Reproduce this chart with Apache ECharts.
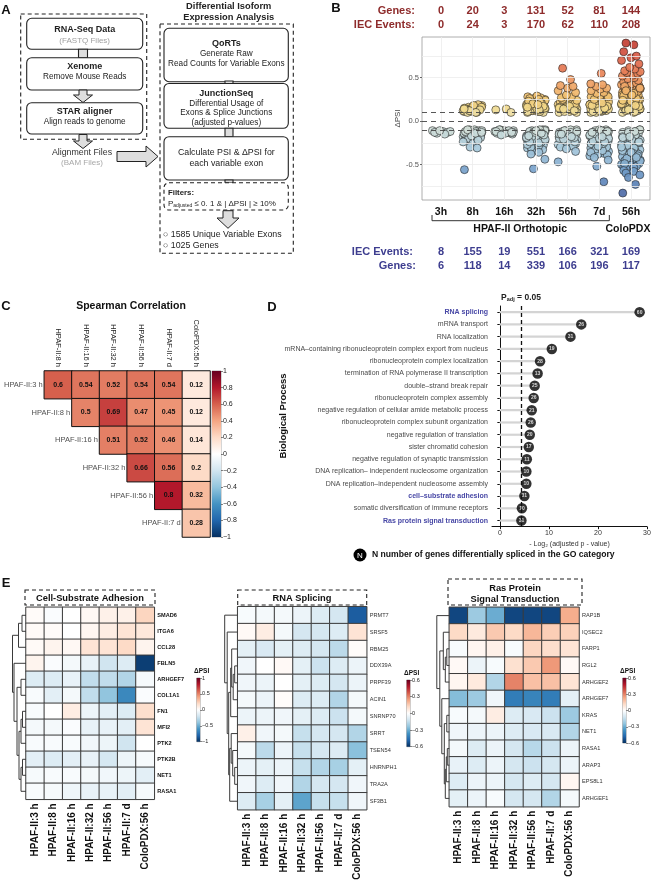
<!DOCTYPE html>
<html><head><meta charset="utf-8">
<script src="https://cdn.jsdelivr.net/npm/echarts@6/dist/echarts.min.js"></script>
<style>html,body{margin:0;padding:0;background:#fff}#c{width:654px;height:894px}</style>
</head><body><div id="c"></div>
<script>
const FONT = '"Liberation Sans", Arial, Helvetica, sans-serif';

// ---------------- Panel B data ----------------
const bCategories = ['3h','8h','16h','32h','56h','7d','56h'];
const bGenesUp = [0,20,3,131,52,81,144];
const bEventsUp = [0,24,3,170,62,110,208];
const bEventsDown = [8,155,19,551,166,321,169];
const bGenesDown = [6,118,14,339,106,196,117];
const dpsi3h = [-0.11,-0.12,-0.13,-0.14,-0.12,-0.13,-0.15,-0.11];
const dpsi8h = [0.11,0.12,0.14,0.16,0.18,0.13,0.10,0.15,0.17,0.12,0.11,0.19,0.14,0.13,0.10,0.16,0.12,0.11,0.15,0.18,0.13,0.12,0.10,0.14,
 -0.10,-0.11,-0.12,-0.13,-0.14,-0.15,-0.16,-0.17,-0.18,-0.19,-0.20,-0.21,-0.22,-0.11,-0.12,-0.13,-0.14,-0.15,-0.16,-0.17,-0.10,-0.12,-0.14,-0.16,-0.18,-0.20,-0.11,-0.13,-0.15,-0.17,-0.19,-0.24,-0.26,-0.22,-0.12,-0.14,-0.10,-0.13,-0.30,-0.31,-0.56];
const dpsi16h = [0.13,0.14,0.10,-0.10,-0.11,-0.12,-0.13,-0.14,-0.15,-0.12,-0.11,-0.13,-0.14,-0.12,-0.10,-0.13,-0.15,-0.11,-0.12,-0.14,-0.13,-0.16];
const dpsi32h = [0.10,0.11,0.12,0.13,0.14,0.15,0.16,0.17,0.18,0.19,0.20,0.21,0.22,0.23,0.24,0.25,0.26,0.27,0.28,0.29,0.10,0.12,0.14,0.16,0.18,0.20,0.22,0.24,0.26,0.11,0.13,0.15,0.17,0.19,0.21,0.23,0.25,0.12,0.15,0.18,0.21,0.11,0.14,0.17,0.20,0.13,0.16,0.19,
 -0.10,-0.11,-0.12,-0.13,-0.14,-0.15,-0.16,-0.17,-0.18,-0.19,-0.20,-0.21,-0.22,-0.23,-0.24,-0.25,-0.26,-0.27,-0.28,-0.29,-0.30,-0.31,-0.32,-0.33,-0.34,-0.10,-0.12,-0.14,-0.16,-0.18,-0.20,-0.22,-0.24,-0.26,-0.28,-0.30,-0.11,-0.13,-0.15,-0.17,-0.19,-0.21,-0.23,-0.25,-0.27,-0.12,-0.15,-0.18,-0.21,-0.24,-0.10,-0.13,-0.16,-0.19,-0.11,-0.14,-0.17,-0.36,-0.38,-0.44,-0.55];
const dpsi56h = [0.10,0.11,0.12,0.13,0.14,0.15,0.16,0.17,0.18,0.19,0.20,0.21,0.22,0.23,0.25,0.10,0.12,0.14,0.16,0.18,0.20,0.11,0.13,0.15,0.17,0.12,0.14,0.24,0.27,0.28,0.30,0.33,0.35,0.38,0.40,0.41,0.48,0.61,
 -0.10,-0.11,-0.12,-0.13,-0.14,-0.15,-0.16,-0.17,-0.18,-0.19,-0.20,-0.21,-0.22,-0.23,-0.24,-0.25,-0.26,-0.27,-0.28,-0.29,-0.30,-0.10,-0.12,-0.14,-0.16,-0.18,-0.20,-0.22,-0.24,-0.11,-0.13,-0.15,-0.17,-0.19,-0.21,-0.12,-0.15,-0.18,-0.32,-0.35,-0.47];
const dpsi7d = [0.10,0.11,0.12,0.13,0.14,0.15,0.16,0.17,0.18,0.19,0.20,0.21,0.22,0.23,0.24,0.25,0.26,0.27,0.28,0.29,0.30,0.10,0.12,0.14,0.16,0.18,0.20,0.22,0.11,0.13,0.15,0.17,0.19,0.12,0.15,0.18,0.21,0.25,0.28,0.32,0.33,0.35,0.37,0.38,0.40,0.42,0.43,0.55,
 -0.10,-0.11,-0.12,-0.13,-0.14,-0.15,-0.16,-0.17,-0.18,-0.19,-0.20,-0.21,-0.22,-0.23,-0.24,-0.25,-0.26,-0.27,-0.28,-0.29,-0.30,-0.31,-0.32,-0.33,-0.34,-0.35,-0.36,-0.37,-0.38,-0.39,-0.40,-0.10,-0.12,-0.14,-0.16,-0.18,-0.20,-0.22,-0.24,-0.26,-0.28,-0.30,-0.32,-0.34,-0.36,-0.11,-0.14,-0.17,-0.20,-0.23,-0.26,-0.29,-0.12,-0.16,-0.20,-0.24,-0.13,-0.18,-0.42,-0.45,-0.52,-0.70];
const dpsiPDX = [0.10,0.11,0.12,0.13,0.14,0.15,0.16,0.17,0.18,0.19,0.20,0.21,0.22,0.23,0.24,0.25,0.26,0.27,0.28,0.29,0.30,0.31,0.32,0.33,0.34,0.35,0.36,0.37,0.38,0.39,0.40,0.41,0.42,0.43,0.44,0.45,
 0.10,0.12,0.14,0.16,0.18,0.20,0.22,0.24,0.26,0.28,0.30,0.32,0.34,0.36,0.38,0.40,0.11,0.14,0.17,0.20,0.23,0.26,0.29,0.32,0.35,0.38,0.13,0.18,0.24,0.30,
 0.47,0.49,0.50,0.52,0.53,0.55,0.56,0.57,0.58,0.60,0.62,0.66,0.70,0.73,0.75,0.80,0.88,0.90,
 -0.10,-0.11,-0.12,-0.13,-0.14,-0.15,-0.16,-0.17,-0.18,-0.19,-0.20,-0.21,-0.22,-0.23,-0.24,-0.25,-0.26,-0.27,-0.28,-0.29,-0.30,-0.31,-0.32,-0.33,-0.34,-0.35,-0.36,-0.37,-0.38,-0.39,-0.40,-0.41,-0.42,-0.43,-0.44,-0.45,-0.46,-0.47,-0.48,-0.49,-0.50,-0.51,-0.52,-0.53,-0.54,-0.55,
 -0.10,-0.13,-0.16,-0.19,-0.22,-0.25,-0.28,-0.31,-0.34,-0.37,-0.40,-0.43,-0.46,-0.49,-0.12,-0.18,-0.24,-0.30,-0.36,-0.42,-0.57,-0.58,-0.60,-0.62,-0.65,-0.73,-0.83];
const bValues = [dpsi3h, dpsi8h, dpsi16h, dpsi32h, dpsi56h, dpsi7d, dpsiPDX];
const bThresholds = [0.1, 0, -0.1];

// ---------------- Panel C data ----------------
const cCols = ['HPAF-II:8 h','HPAF-II:16 h','HPAF-II:32 h','HPAF-II:56 h','HPAF-II:7 d','ColoPDX:56 h'];
const cRows = ['HPAF-II:3 h','HPAF-II:8 h','HPAF-II:16 h','HPAF-II:32 h','HPAF-II:56 h','HPAF-II:7 d'];
const cCorr = [
 [0.6,0.54,0.52,0.54,0.54,0.12],
 [null,0.5,0.69,0.47,0.45,0.12],
 [null,null,0.51,0.52,0.46,0.14],
 [null,null,null,0.66,0.56,0.2],
 [null,null,null,null,0.8,0.32],
 [null,null,null,null,null,0.28]];

// ---------------- Panel D data ----------------
const dTerms = ['RNA splicing','mRNA transport','RNA localization','mRNA–containing ribonucleoprotein complex export from nucleus','ribonucleoprotein complex localization','termination of RNA polymerase II transcription','double–strand break repair','ribonucleoprotein complex assembly','negative regulation of cellular amide metabolic process','ribonucleoprotein complex subunit organization','negative regulation of translation','sister chromatid cohesion','negative regulation of synaptic transmission','DNA replication– independent nucleosome organization','DNA replication–independent nucleosome assembly','cell–substrate adhesion','somatic diversification of immune receptors','Ras protein signal transduction'];
const dLogP = [28.5,16.6,14.4,10.6,8.2,7.7,7.1,6.9,6.5,6.3,6.1,5.9,5.5,5.4,5.4,5.0,4.5,4.4];
const dGenes = [60,26,31,19,28,13,25,26,21,26,20,17,11,10,10,31,10,31];
const dHighlight = ['RNA splicing','cell–substrate adhesion','Ras protein signal transduction'];
const dPadjCut = 4.32; // -log2(0.05)
const dTicks = [0,10,20,30];

// ---------------- Panel E data ----------------
const eConds = ['HPAF-II:3 h','HPAF-II:8 h','HPAF-II:16 h','HPAF-II:32 h','HPAF-II:56 h','HPAF-II:7 d','ColoPDX:56 h'];
const e1Genes = ['SMAD6','ITGA6','CCL28','FBLN5','ARHGEF7','COL1A1','FN1','MFI2','PTK2','PTK2B','NET1','RASA1'];
const e1Vals = [
 [0.02,-0.02,0.00,0.04,0.08,0.08,0.22],
 [0.03,0.02,0.00,0.05,0.10,0.15,0.13],
 [0.03,0.06,0.04,0.15,0.15,0.20,0.06],
 [0.06,-0.02,-0.05,-0.10,-0.20,-0.15,-0.95],
 [-0.15,-0.15,-0.10,-0.25,-0.25,-0.30,-0.04],
 [-0.03,-0.12,-0.05,-0.25,-0.40,-0.65,-0.02],
 [-0.03,0.00,0.10,-0.08,-0.12,-0.15,0.18],
 [-0.05,-0.05,-0.02,-0.10,-0.10,-0.12,0.15],
 [-0.03,-0.03,-0.03,-0.06,-0.08,-0.20,0.00],
 [-0.12,-0.15,-0.12,-0.10,-0.18,-0.08,-0.04],
 [-0.04,-0.03,-0.03,-0.05,-0.06,-0.08,-0.12],
 [-0.03,-0.04,-0.07,-0.10,-0.10,-0.12,-0.04]];
const e1Merges = [[0,1,4],[-1,2,7.5],[4,5,5],[6,7,3.5],[-4,8,5],[9,10,3.5],[-6,11,5],[-5,-7,7],[-3,-8,9],[3,-9,12],[-2,-10,13.5]];
const e2Genes = ['PRMT7','SRSF5','RBM25','DDX39A','PRPF39','ACIN1','SNRNP70','SRRT','TSEN54','HNRNPH1','TRA2A','SF3B1'];
const e2Vals = [
 [-0.02,-0.03,-0.03,-0.05,-0.09,-0.11,-0.50],
 [0.02,0.06,-0.03,-0.11,-0.11,-0.09,0.09],
 [-0.07,-0.10,-0.07,-0.09,-0.11,-0.16,0.01],
 [-0.04,0.00,0.02,-0.07,-0.13,-0.09,-0.05],
 [-0.04,-0.05,0.00,-0.07,-0.09,-0.11,-0.05],
 [-0.03,-0.05,0.01,-0.09,-0.09,-0.18,-0.03],
 [-0.05,-0.05,-0.04,-0.07,-0.09,-0.13,-0.03],
 [0.05,-0.04,-0.03,-0.14,-0.11,-0.11,-0.18],
 [-0.03,-0.16,-0.05,-0.14,-0.11,-0.09,-0.25],
 [-0.05,-0.07,-0.05,-0.14,-0.18,-0.20,-0.07],
 [-0.04,-0.09,-0.04,-0.18,-0.11,-0.11,-0.04],
 [-0.09,-0.20,-0.07,-0.32,-0.14,-0.14,-0.04]];
const e2Merges = [[3,4,3],[-1,5,4.5],[2,-2,6],[-3,6,7],[9,10,3],[8,-5,5],[7,-6,6.5],[-7,11,8],[-4,-8,9],[1,-9,10.5],[0,-10,13]];
const e3Genes = ['RAP1B','IQSEC2','FARP1','RGL2','ARHGEF2','ARHGEF7','KRAS','NET1','RASA1','ARAP3','EPS8L1','ARHGEF1'];
const e3Vals = [
 [-0.55,-0.22,-0.30,-0.55,-0.55,-0.55,0.22],
 [0.12,0.07,0.16,0.12,0.20,0.15,0.14],
 [-0.02,0.03,0.05,-0.02,0.13,0.11,0.09],
 [0.02,-0.05,-0.02,0.10,0.16,0.26,0.02],
 [0.03,0.07,-0.18,0.30,0.18,0.18,0.09],
 [-0.26,-0.22,-0.04,-0.42,-0.40,-0.42,-0.07],
 [-0.02,-0.03,0.06,-0.09,-0.10,-0.13,-0.22],
 [-0.04,-0.05,-0.05,-0.09,-0.10,-0.10,-0.18],
 [-0.03,-0.09,-0.05,-0.11,-0.17,-0.13,-0.05],
 [-0.06,-0.09,-0.05,-0.11,-0.13,-0.11,-0.05],
 [-0.09,-0.05,-0.05,-0.11,-0.09,-0.11,0.03],
 [-0.07,-0.05,-0.02,-0.11,-0.11,-0.18,-0.03]];
const e3Merges = [[2,3,2.5],[-1,4,4],[1,-2,6],[6,7,2.5],[8,9,2],[-5,10,3],[-6,11,4],[-4,-7,5],[5,-8,7.5],[-3,-9,9.5],[0,-10,12.5]];

// ---------------- styles ----------------
const RDBU = ['#053061','#2166AC','#4393C3','#92C5DE','#D1E5F0','#FFFFFF','#FDDBC7','#F4A582','#D6604D','#B2182B','#67001F'];
const B_COLORS = ['#4a5f9e','#5a7fb5','#6f9ac6','#8fb6d4','#a9cadb','#c8dbdb','#e6e8d0','#f2d98a','#f1c070','#ee9a62','#e57a55','#d85a46','#c44236'];
const JITTER = [-0.27,0.06,0.21,-0.13,0.29,-0.2,0.12,-0.04,0.25,-0.3,0.0,0.17,-0.23,0.09,-0.16,0.28,-0.08,0.14,-0.26,0.03,0.23,-0.1,0.1];

const grids=[], xAxes=[], yAxes=[], series=[], visualMaps=[];
function addGrid(g){grids.push(Object.assign({containLabel:false, outerBoundsMode:'none'}, g)); return grids.length-1;}
function addX(a){xAxes.push(a); return xAxes.length-1;}
function addY(a){yAxes.push(a); return yAxes.length-1;}
function addS(s){series.push(s); return series.length-1;}
const tickFmt = v => { const r = Math.round(v*100)/100; return r===0 ? '0' : (r<0 ? '−'+Math.abs(r) : String(r)); };

// ---------------- Panel B ----------------
const gB = addGrid({left:422, top:37, width:228, height:163, show:true, borderColor:'#9a9a9a', borderWidth:0.8});
const xB = addX({type:'value', gridIndex:gB, min:0.4, max:7.6, splitLine:{show:false}, axisLine:{show:false}, axisTick:{show:false},
  axisLabel:{customValues:[1,2,3,4,5,6,7], formatter:v=>bCategories[Math.round(v)-1], fontSize:10.5, fontWeight:'bold', color:'#111', fontFamily:FONT, margin:7}});
const yB = addY({type:'value', gridIndex:gB, min:-0.91, max:0.97, splitLine:{show:false}, axisLine:{show:false},
  axisTick:{show:true, customValues:[-0.5,0,0.5], length:2, lineStyle:{color:'#666'}},
  axisLabel:{customValues:[-0.5,0,0.5], formatter:v=>(Math.abs(v)<1e-9?'0.0':(v<0?'-':'')+Math.abs(v).toFixed(1)), fontSize:7.5, color:'#555', fontFamily:FONT, margin:3},
  name:'ΔPSI', nameLocation:'middle', nameGap:20, nameTextStyle:{fontSize:8, color:'#444', fontFamily:FONT}});
const bGridLines = [];
[1,2,3,4,5,6,7].forEach(v=>bGridLines.push({xAxis:v}));
[-0.75,-0.5,-0.25,0.25,0.5,0.75].forEach(v=>bGridLines.push({yAxis:v}));
addS({type:'scatter', xAxisIndex:xB, yAxisIndex:yB, data:[], silent:true, z:1,
  markLine:{silent:true, symbol:'none', label:{show:false}, animation:false, lineStyle:{color:'#ececec', width:0.8, type:'solid'}, data:bGridLines}});
const bPoints = [];
bValues.forEach((arr, ci) => arr.forEach((v, i) => bPoints.push([ci + 1 + JITTER[i % JITTER.length], v])));
const sB = addS({type:'scatter', xAxisIndex:xB, yAxisIndex:yB, data:bPoints, symbolSize:8, z:3,
  itemStyle:{borderColor:'#1a1a1a', borderWidth:0.6, opacity:0.93}, silent:true,
  markLine:{silent:true, symbol:'none', label:{show:false}, animation:false, lineStyle:{color:'#444', width:0.9, type:[5,4]}, data:bThresholds.map(v=>({yAxis:v}))}});
visualMaps.push({type:'continuous', show:false, seriesIndex:sB, dimension:1, min:-0.9, max:0.9, inRange:{color:B_COLORS}});

// ---------------- Panel C ----------------
const gC = addGrid({left:44.3, top:371, width:165.7, height:166});
const xC = addX({type:'category', gridIndex:gC, data:cCols, position:'top', axisLine:{show:false}, axisTick:{show:false}, splitLine:{show:false},
  axisLabel:{rotate:90, interval:0, fontSize:7.5, color:'#222', fontFamily:FONT, margin:4}});
const yC = addY({type:'category', gridIndex:gC, data:cRows, inverse:true, axisLine:{show:false}, axisTick:{show:false}, axisLabel:{show:false}, splitLine:{show:false}});
const cData = [];
cCorr.forEach((row, r) => row.forEach((v, c) => { if (v !== null) cData.push([c, r, v]); }));
const sC = addS({type:'heatmap', xAxisIndex:xC, yAxisIndex:yC, data:cData, silent:true,
  itemStyle:{borderColor:'#111', borderWidth:1},
  label:{show:true, formatter:p=>String(p.value[2]), fontSize:7, fontWeight:'bold', color:'#111', fontFamily:FONT}});
visualMaps.push({type:'continuous', show:false, seriesIndex:sC, dimension:2, min:-1, max:1, inRange:{color:RDBU}});
addS({type:'scatter', xAxisIndex:xC, yAxisIndex:yC, data:cRows.map((n,i)=>[i,i]), symbol:'rect', symbolSize:[27,27], silent:true,
  itemStyle:{color:'rgba(0,0,0,0)'}, label:{show:true, position:'left', distance:2, formatter:p=>cRows[p.dataIndex], fontSize:7.5, color:'#222', fontFamily:FONT}});

function addColorbar(left, top, width, height, range, interval, fontSize, title){
  const g = addGrid({left, top, width, height, show:true, borderColor:'#555', borderWidth:0.5});
  const xi = addX({type:'category', gridIndex:g, data:['c'], show:false});
  const yi = addY({type:'value', gridIndex:g, min:-range, max:range, interval, position:'right',
    axisLine:{show:false}, splitLine:{show:false}, axisTick:{show:true, length:2, lineStyle:{color:'#333', width:0.6}},
    axisLabel:{formatter:tickFmt, fontSize, color:'#222', fontFamily:FONT, margin:2},
    name:title||'', nameLocation:'end', nameGap:3, nameTextStyle:{fontSize:6.5, fontWeight:'bold', color:'#111', fontFamily:FONT, align:'left', padding:[0,0,0,-6]}});
  const up = new echarts.graphic.LinearGradient(0,0,0,1, RDBU.slice(5).reverse().map((c,i)=>({offset:i/5, color:c})));
  const dn = new echarts.graphic.LinearGradient(0,0,0,1, RDBU.slice(0,6).reverse().map((c,i)=>({offset:i/5, color:c})));
  addS({type:'bar', xAxisIndex:xi, yAxisIndex:yi, data:[range], barWidth:'100%', barGap:'-100%', itemStyle:{color:up}, silent:true});
  addS({type:'bar', xAxisIndex:xi, yAxisIndex:yi, data:[-range], barWidth:'100%', barGap:'-100%', itemStyle:{color:dn}, silent:true});
}
addColorbar(212, 371, 9, 166, 1, 0.2, 7, '');

// ---------------- Panel D ----------------
const gD = addGrid({left:492, top:306, width:155, height:220.7});
const xD = addX({type:'value', gridIndex:gD, min:-1.6, max:30, splitLine:{show:false},
  axisLine:{show:true, onZero:false, lineStyle:{color:'#111', width:1}},
  axisTick:{show:true, customValues:dTicks, length:2.5, lineStyle:{color:'#111'}},
  axisLabel:{customValues:dTicks, fontSize:7, color:'#333', fontFamily:FONT, margin:3},
  name:'- Log₂ (adjusted p - value)', nameLocation:'middle', nameGap:14, nameTextStyle:{fontSize:7, color:'#333', fontFamily:FONT}});
const yD = addY({type:'category', gridIndex:gD, data:dTerms, inverse:true,
  axisLine:{show:true, lineStyle:{color:'#111', width:1}}, axisTick:{show:true, alignWithLabel:true, length:2.5, lineStyle:{color:'#111'}},
  axisLabel:{interval:0, fontSize:7, color:'#4a4a4a', fontFamily:FONT, margin:4,
    formatter:v=>dHighlight.includes(v) ? '{h|'+v+'}' : v,
    rich:{h:{fontSize:7, fontWeight:'bold', color:'#4848a6', fontFamily:FONT}}}});
addS({type:'bar', xAxisIndex:xD, yAxisIndex:yD, data:dLogP, barWidth:2.2, itemStyle:{color:'#d4d4d4'}, silent:true, z:1,
  markLine:{silent:true, symbol:'none', animation:false, label:{show:false}, lineStyle:{color:'#111', width:1.3, type:[4,3]}, data:[{xAxis:dPadjCut}]}});
addS({type:'scatter', xAxisIndex:xD, yAxisIndex:yD, data:dLogP.map((v,i)=>[v,i]), symbolSize:10.5, z:4, silent:true,
  itemStyle:{color:'#000'}, label:{show:true, position:'inside', formatter:p=>String(dGenes[p.dataIndex]), fontSize:5, fontWeight:'bold', color:'#fff', fontFamily:FONT}});

// ---------------- Panel E ----------------
function dendroLines(merges){
  const nodes = [], lines = [];
  const get = r => r >= 0 ? {y:r, h:0} : nodes[-r-1];
  merges.forEach(([a,b,h]) => { const A=get(a), B=get(b);
    lines.push({coords:[[A.h,A.y],[h,A.y],[h,B.y],[B.h,B.y]]}); nodes.push({y:(A.y+B.y)/2, h}); });
  return lines;
}
function addHeatmapE(left, top, width, height, genes, vals, merges, dLeft, range, boldRows){
  const g = addGrid({left, top, width, height});
  const xi = addX({type:'category', gridIndex:g, data:eConds, position:'bottom', axisLine:{show:false}, axisTick:{show:false}, splitLine:{show:false},
    axisLabel:{rotate:90, interval:0, fontSize:10, fontWeight:'bold', color:'#111', fontFamily:FONT, margin:4}});
  const yi = addY({type:'category', gridIndex:g, data:genes, inverse:true, position:'right', axisLine:{show:false}, axisTick:{show:false}, splitLine:{show:false},
    axisLabel:{interval:0, fontSize:5.6, fontWeight:boldRows?'bold':'normal', color:boldRows?'#111':'#333', fontFamily:FONT, margin:3}});
  const data = [];
  vals.forEach((row, r) => row.forEach((v, c) => data.push([c, r, v])));
  const s = addS({type:'heatmap', xAxisIndex:xi, yAxisIndex:yi, data, silent:true, itemStyle:{borderColor:'#3a3a3a', borderWidth:1}});
  visualMaps.push({type:'continuous', show:false, seriesIndex:s, dimension:2, min:-range, max:range, inRange:{color:RDBU}});
  const dw = left - dLeft;
  const gd = addGrid({left:dLeft, top, width:dw, height});
  const xd = addX({type:'value', gridIndex:gd, min:0, max:dw, inverse:true, show:false});
  const yd = addY({type:'value', gridIndex:gd, min:-0.5, max:genes.length-0.5, inverse:true, show:false});
  addS({type:'lines', coordinateSystem:'cartesian2d', xAxisIndex:xd, yAxisIndex:yd, polyline:true, silent:true,
    lineStyle:{color:'#3a3a3a', width:1, opacity:1}, data:dendroLines(merges)});
}
addHeatmapE(26, 607.3, 128.3, 192, e1Genes, e1Vals, e1Merges, 2, 1, true);
addColorbar(196.7, 678, 3.4, 63.7, 1, 0.5, 5.5, 'ΔPSI');
addHeatmapE(237.7, 606.7, 129, 203, e2Genes, e2Vals, e2Merges, 215, 0.6, false);
addColorbar(406.7, 680, 3.4, 66.7, 0.6, 0.3, 5.5, 'ΔPSI');
addHeatmapE(449.3, 607.3, 129.7, 199.4, e3Genes, e3Vals, e3Merges, 432, 0.6, false);
addColorbar(622.7, 678, 3.4, 65, 0.6, 0.3, 5.5, 'ΔPSI');

const chart = echarts.init(document.getElementById('c'), null, {renderer:'canvas'});
chart.setOption({animation:false, backgroundColor:'#fff', textStyle:{fontFamily:FONT},
  grid:grids, xAxis:xAxes, yAxis:yAxes, series:series, visualMap:visualMaps});

// ---------------- graphics (diagram + annotations) ----------------
const G = [];
function gRect(x,y,w,h,r,dashed,fill){ G.push({type:'rect', shape:{x,y,width:w,height:h,r:r||0}, style:{fill:fill||'#fff', stroke:'#222', lineWidth:1.1, lineDash:dashed?[4,3]:null}, silent:true, z:5}); }
function gText(x,y,text,size,o){ o=o||{}; G.push({type:'text', x, y, rotation:o.rot||0, silent:true, z:20,
  style:{text, fontSize:size, fontFamily:FONT, fontWeight:o.bold?'bold':'normal', fill:o.color||'#222',
    align:o.align||'center', verticalAlign:'middle', textAlign:o.align||'center', textVerticalAlign:'middle', rich:o.rich}}); }
function gPoly(points){ G.push({type:'polygon', shape:{points}, style:{fill:'#dedede', stroke:'#222', lineWidth:1}, silent:true, z:6}); }
function gLine(points, color, w){ G.push({type:'polyline', shape:{points}, style:{stroke:color||'#222', lineWidth:w||1, fill:null}, silent:true, z:20}); }

// Panel letters
gText(6,10,'A',13,{bold:true,color:'#111'});
gText(336,8,'B',13,{bold:true,color:'#111'});
gText(6,306,'C',13,{bold:true,color:'#111'});
gText(272,307,'D',13,{bold:true,color:'#111'});
gText(6,583,'E',13,{bold:true,color:'#111'});

// Panel A flowchart
gRect(20.7,14,126,125.3,0,true,'none');
gRect(26.7,18.3,116,31,5);
gRect(78.5,49.3,9,8.4,0,false,'#dedede');
gRect(26.7,57.7,116,32.3,5);
gPoly([[79,90],[87,90],[87,95],[92.5,95],[83,102.5],[73.5,95],[79,95]]);
gRect(26.7,102.7,116,31.3,5);
gPoly([[79,134.5],[87,134.5],[87,141],[92.5,141],[83,148.5],[73.5,141],[79,141]]);
gPoly([[117,151.5],[146,151.5],[146,146],[158,156.5],[146,167],[146,161.5],[117,161.5]]);
gText(84.7,30,'RNA-Seq Data',9,{bold:true});
gText(84.7,40.7,'(FASTQ Files)',8,{color:'#a0a0a0'});
gText(84.7,66.7,'Xenome',9,{bold:true});
gText(84.7,76.5,'Remove Mouse Reads',8.2);
gText(84.7,112,'STAR aligner',9,{bold:true});
gText(84.7,121.5,'Align reads to genome',8.2);
gText(82,152.7,'Alignment Files',8.8,{color:'#333'});
gText(82,162.3,'(BAM Files)',8,{color:'#a8a8a8'});
gText(228.7,6.7,'Differential Isoform',9.3,{bold:true});
gText(228.7,17.3,'Expression Analysis',9.3,{bold:true});
gRect(160,24,133.3,229.3,0,true,'none');
gRect(164,28.3,124.3,53.4,5);
gRect(225,81,8,3,0,false,'#dedede');
gRect(164,83.5,124.3,44.8,5);
gRect(225,128.3,8,8.4,0,false,'#dedede');
gRect(164,136.7,124.3,43.3,5);
gRect(225,180,8,2.7,0,false,'#dedede');
gRect(164,182.7,124.3,27.3,5,true);
gPoly([[223,210.7],[233,210.7],[233,218],[239,218],[228,228.3],[217,218],[223,218]]);
gText(226.3,43.3,'QoRTs',9,{bold:true});
gText(226.3,53.3,'Generate Raw',8.2);
gText(226.3,63.3,'Read Counts for Variable Exons',8.2);
gText(226.3,94,'JunctionSeq',9,{bold:true});
gText(226.3,103.3,'Differential Usage of',8.2);
gText(226.3,112.7,'Exons & Splice Junctions',8.2);
gText(226.3,122.7,'(adjusted p-values)',8.2);
gText(226.3,152.7,'Calculate PSI & ΔPSI for',8.8);
gText(226.3,163.3,'each variable exon',8.8);
gText(168,192.7,'Filters:',7.8,{bold:true,align:'left'});
gText(168,202.7,'{a|P}{s|adjusted}{a| ≤ 0. 1 & | ΔPSI | ≥ 10%}',8,{align:'left',
  rich:{a:{fontSize:8, fontFamily:FONT, fill:'#222', color:'#222', lineHeight:10, verticalAlign:'bottom'}, s:{fontSize:5, fontFamily:FONT, fill:'#222', color:'#222', lineHeight:8, verticalAlign:'bottom'}}});
gText(163,235,'○ 1585 Unique Variable Exons',8.8,{align:'left'});
gText(163,246,'○ 1025 Genes',8.8,{align:'left'});

// Panel B annotations (positions from the chart's own x scale)
const bx = bCategories.map((c,i)=>chart.convertToPixel({xAxisIndex:xB}, i+1));
const RED = '#8e2b2b', BLUE = '#3d3d8f';
gText(415,11,'Genes:',11,{bold:true,color:RED,align:'right'});
gText(415,25,'IEC Events:',11,{bold:true,color:RED,align:'right'});
gText(413,251.7,'IEC Events:',11,{bold:true,color:BLUE,align:'right'});
gText(416,266,'Genes:',11,{bold:true,color:BLUE,align:'right'});
bx.forEach((x,i)=>{
  gText(x,11,String(bGenesUp[i]),11,{bold:true,color:RED});
  gText(x,25,String(bEventsUp[i]),11,{bold:true,color:RED});
  gText(x,251.7,String(bEventsDown[i]),11,{bold:true,color:BLUE});
  gText(x,266,String(bGenesDown[i]),11,{bold:true,color:BLUE});
});
gLine([[bx[0]-9,215],[bx[0]-9,220.7],[bx[5]+10,220.7],[bx[5]+10,215]],'#333',1);
gText((bx[0]+bx[5])/2,229.3,'HPAF-II Orthotopic',10.5,{bold:true,color:'#111'});
gText(bx[6]-3,229.3,'ColoPDX',10.5,{bold:true,color:'#111'});

// Panel C title
gText(131,306,'Spearman Correlation',10.5,{bold:true,color:'#111'});

// Panel D annotations
const px = chart.convertToPixel({xAxisIndex:xD}, dPadjCut);
gText(px,297,'{a|P}{s|adj}{a| = 0.05}',8.5,{rich:{a:{fontSize:8.5, fontWeight:'bold', fontFamily:FONT, color:'#111', lineHeight:11, verticalAlign:'bottom'}, s:{fontSize:5.5, fontWeight:'bold', fontFamily:FONT, color:'#111', lineHeight:9, verticalAlign:'bottom'}}});
gText(283,416,'Biological Process',9.5,{bold:true,color:'#111',rot:Math.PI/2});
G.push({type:'circle', shape:{cx:360, cy:555, r:6.5}, style:{fill:'#000'}, silent:true, z:20});
gText(360,555.5,'N',8,{color:'#fff'});
gText(372,555,'N number of genes differentially spliced in the GO category',8.6,{bold:true,color:'#111',align:'left'});

// Panel E titles
gRect(25,590,130,15,0,true,'none');
gText(90,598,'Cell-Substrate Adhesion',9.3,{bold:true,color:'#111'});
gRect(237.7,590,129,15,0,true,'none');
gText(302,598,'RNA Splicing',9.3,{bold:true,color:'#111'});
gRect(448,579,134,26,0,true,'none');
gText(515,588.5,'Ras Protein',9.3,{bold:true,color:'#111'});
gText(515,599.5,'Signal Transduction',9.3,{bold:true,color:'#111'});

chart.setOption({graphic:{elements:G}});
</script>
</body></html>
